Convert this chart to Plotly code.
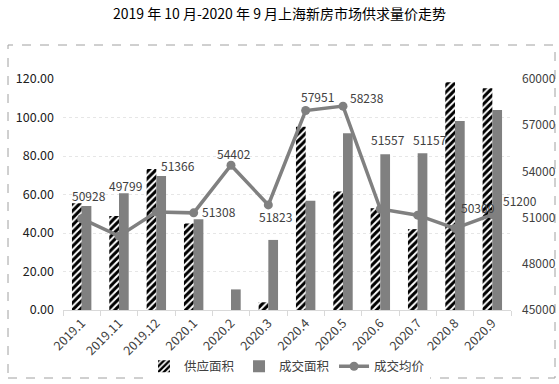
import plotly.graph_objects as go

title = "2019 年 10 月-2020 年 9 月上海新房市场供求量价走势"
months = ["2019.1", "2019.11", "2019.12", "2020.1", "2020.2", "2020.3",
          "2020.4", "2020.5", "2020.6", "2020.7", "2020.8", "2020.9"]
supply_area = [55.5, 48.8, 73.2, 45.0, 0.0, 4.0, 95.2, 61.5, 52.8, 42.0, 118.3, 115.2]
deal_area = [54.0, 60.6, 69.6, 47.1, 10.7, 36.4, 56.8, 91.8, 80.9, 81.4, 98.2, 103.9]
avg_price = [50928, 49799, 51366, 51308, 54402, 51823, 57951, 58238, 51557, 51157, 50300, 51200]
left_ticks = [0, 20, 40, 60, 80, 100, 120]
right_ticks = [45000, 48000, 51000, 54000, 57000, 60000]
series_names = ["供应面积", "成交面积", "成交均价"]

# label offsets (style only), px
label_dx = [7, 6, 22, 25, 3, 7, 12, 24, 8, 12, 23, 28]
label_dy = [23, 51, 46, 1, 12, -12, 14, 9, 70, 76, 21, 14]

FONT = "Noto Sans CJK SC, Liberation Sans, sans-serif"
GREY = "#808080"
TXT = "#404040"

xi = list(range(len(months)))

fig = go.Figure()
fig.add_trace(go.Bar(
    x=xi, y=supply_area, name=series_names[0],
    marker=dict(color="white", line=dict(width=0),
                pattern=dict(shape="/", fgcolor="black", bgcolor="white", size=5,
                             solidity=0.6, fgopacity=1)),
))
fig.add_trace(go.Bar(
    x=xi, y=deal_area, name=series_names[1],
    marker=dict(color=GREY, line=dict(width=0)),
))
fig.add_trace(go.Scatter(
    x=xi, y=avg_price, name=series_names[2], yaxis="y2",
    mode="lines+markers", line=dict(color=GREY, width=3.5),
    marker=dict(color=GREY, size=9),
))

for i, v, dx, dy in zip(xi, avg_price, label_dx, label_dy):
    fig.add_annotation(x=i, y=v, xref="x", yref="y2", text=str(v), showarrow=False,
                       xshift=dx, yshift=dy, font=dict(size=12, color=TXT, family=FONT))

fig.update_layout(
    width=559, height=384,
    margin=dict(l=63, r=48, t=79, b=74, autoexpand=False),
    paper_bgcolor="white", plot_bgcolor="white",
    font=dict(family=FONT, size=12, color=TXT),
    title=dict(text=title, x=0.5, xref="container", xanchor="center", y=0.963, yref="container",
               yanchor="middle", font=dict(size=14, color="black", family=FONT)),
    barmode="group", bargap=0.48, bargroupgap=0.0,
    showlegend=True,
    legend=dict(orientation="h", x=0.5, xanchor="center", y=-0.245, yanchor="middle",
                font=dict(size=12.5, color=TXT), itemwidth=30, traceorder="normal"),
    xaxis=dict(range=[-0.5, len(months) - 0.5], tickmode="array", tickvals=xi, ticktext=months,
               tickangle=-45, showgrid=False, showline=True, zeroline=False, automargin=False,
               linecolor="#d9d9d9", linewidth=1, ticks="",
               minor=dict(tickmode="linear", tick0=-0.5, dtick=1, ticks="outside",
                          ticklen=5, tickcolor="#d9d9d9", showgrid=False),
               tickfont=dict(size=12.5, color=TXT)),
    yaxis=dict(range=[0, 120], tickvals=left_ticks, tickformat=".2f", showgrid=True,
               gridcolor="#e6e6e6", griddash="dot", zeroline=False, automargin=False,
               tickfont=dict(size=12.5, color="#202020"), ticks="", ticklabelstandoff=8),
    yaxis2=dict(range=[45000, 60000], tickvals=right_ticks, tickformat="d", overlaying="y",
                side="right", showgrid=False, zeroline=False, automargin=False,
                tickfont=dict(size=12, color=TXT), ticks="", ticklabelstandoff=10),
)

fig.add_shape(type="rect", xref="paper", yref="paper",
              x0=-55 / 448, x1=(555 - 63) / 448, y0=(310 - 378) / 231, y1=(310 - 45) / 231,
              line=dict(color="#a0a0a0", width=1, dash="dash"), fillcolor="rgba(0,0,0,0)",
              layer="below")

fig.write_html("out.html", config={"displayModeBar": False},
               post_script="document.body.style.margin='0';document.body.style.overflow='hidden';")
